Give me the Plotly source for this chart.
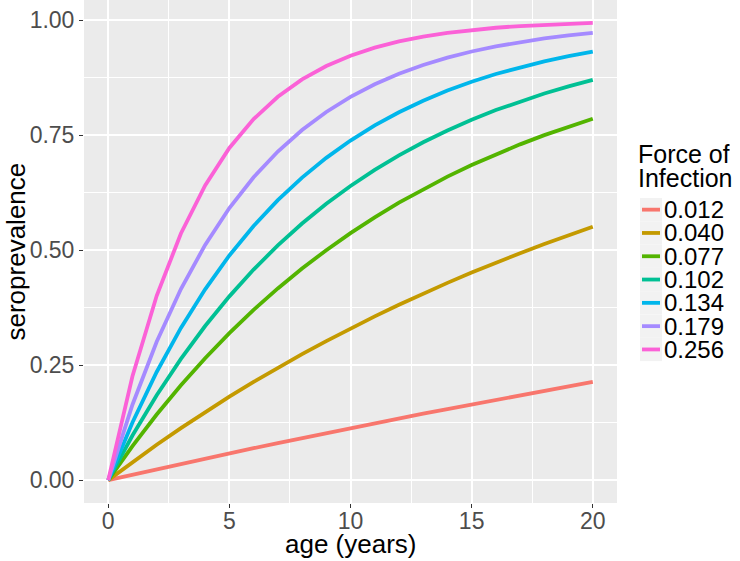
import plotly.graph_objects as go

age = list(range(21))
foi_labels = ["0.012", "0.040", "0.077", "0.102", "0.134", "0.179", "0.256"]
colors = ["#F8766D", "#C49A00", "#53B400", "#00C094", "#00B6EB", "#A58AFF", "#FB61D7"]

sp_0012 = [0, 0.0119, 0.0237, 0.0354, 0.0469, 0.0582, 0.0695, 0.0806, 0.0915, 0.1024, 0.1131,
           0.1237, 0.1341, 0.1444, 0.1546, 0.1647, 0.1747, 0.1845, 0.1943, 0.2039, 0.2134]
sp_0040 = [0, 0.0392, 0.0769, 0.1131, 0.1479, 0.1813, 0.2134, 0.2442, 0.2739, 0.3023, 0.3297,
           0.3560, 0.3812, 0.4055, 0.4288, 0.4512, 0.4727, 0.4934, 0.5132, 0.5323, 0.5507]
sp_0077 = [0, 0.0741, 0.1427, 0.2063, 0.2651, 0.3195, 0.3700, 0.4167, 0.4599, 0.4999, 0.5370,
           0.5713, 0.6031, 0.6325, 0.6597, 0.6849, 0.7083, 0.7299, 0.7499, 0.7685, 0.7856]
sp_0102 = [0, 0.0970, 0.1845, 0.2636, 0.3350, 0.3995, 0.4577, 0.5103, 0.5578, 0.6007, 0.6394,
           0.6744, 0.7059, 0.7345, 0.7602, 0.7835, 0.8045, 0.8234, 0.8405, 0.8560, 0.8700]
sp_0134 = [0, 0.1254, 0.2351, 0.3310, 0.4149, 0.4883, 0.5525, 0.6086, 0.6577, 0.7006, 0.7382,
           0.7710, 0.7997, 0.8248, 0.8468, 0.8660, 0.8828, 0.8975, 0.9104, 0.9216, 0.9314]
sp_0179 = [0, 0.1639, 0.3009, 0.4155, 0.5113, 0.5914, 0.6584, 0.7144, 0.7612, 0.8003, 0.8330,
           0.8604, 0.8833, 0.9024, 0.9184, 0.9318, 0.9430, 0.9523, 0.9601, 0.9667, 0.9721]
sp_0256 = [0, 0.2259, 0.4007, 0.5361, 0.6408, 0.7220, 0.7848, 0.8334, 0.8710, 0.9001, 0.9227,
           0.9402, 0.9537, 0.9641, 0.9722, 0.9785, 0.9834, 0.9871, 0.9900, 0.9923, 0.9940]

series = [sp_0012, sp_0040, sp_0077, sp_0102, sp_0134, sp_0179, sp_0256]

x_ticks = [0, 5, 10, 15, 20]
y_ticks = [0, 0.25, 0.5, 0.75, 1.0]
y_tick_text = ["0.00", "0.25", "0.50", "0.75", "1.00"]

W, H = 740, 561
ML, MR, MT, MB = 84, 123, 0, 58
PW = W - ML - MR
PH = H - MT - MB

def px_x(p):
    return (p - ML) / PW

def px_y(p):
    return (H - MB - p) / PH

fig = go.Figure()
for lab, col, ys in zip(foi_labels, colors, series):
    fig.add_trace(go.Scatter(x=age, y=ys, mode="lines", name=lab,
                             line=dict(color=col, width=3.8), showlegend=False))

font_fam = "Liberation Sans, Arial, sans-serif"

shapes = []
annotations = []
# axis titles
annotations.append(dict(xref="paper", yref="paper", x=px_x(350.5), y=px_y(544),
                        xanchor="center", yanchor="middle", text="age (years)", showarrow=False,
                        height=28, borderpad=0,
                        font=dict(family=font_fam, size=26, color="black")))
annotations.append(dict(xref="paper", yref="paper", x=px_x(15), y=px_y(251.5),
                        xanchor="center", yanchor="middle", text="seroprevalence", showarrow=False,
                        textangle=-90, height=28, borderpad=0,
                        font=dict(family=font_fam, size=26, color="black")))
# manual ggplot-style legend
for j, t in enumerate(["Force of", "Infection"]):
    annotations.append(dict(xref="paper", yref="paper", x=px_x(637), y=px_y(154 + 24 * j),
                            xanchor="left", yanchor="middle", text=t, showarrow=False,
                            height=24, borderpad=0,
                            font=dict(family=font_fam, size=25, color="black")))
key_top = 198
key_h = 23.3
for i, (lab, col) in enumerate(zip(foi_labels, colors)):
    y0 = key_top + i * key_h
    yc = y0 + key_h / 2
    shapes.append(dict(type="rect", xref="paper", yref="paper",
                       x0=px_x(640), x1=px_x(662), y0=px_y(y0), y1=px_y(y0 + key_h),
                       fillcolor="#F2F2F2", line=dict(width=0), layer="below"))
    shapes.append(dict(type="line", xref="paper", yref="paper",
                       x0=px_x(642), x1=px_x(660), y0=px_y(yc), y1=px_y(yc),
                       line=dict(color=col, width=3.8)))
    annotations.append(dict(xref="paper", yref="paper", x=px_x(663), y=px_y(yc),
                            xanchor="left", yanchor="middle", text=lab, showarrow=False,
                            height=23, borderpad=0,
                            font=dict(family=font_fam, size=24, color="black")))

fig.update_layout(
    width=W, height=H,
    margin=dict(l=ML, r=MR, t=MT, b=MB, pad=0),
    paper_bgcolor="white", plot_bgcolor="#EBEBEB",
    font=dict(family=font_fam),
    shapes=shapes, annotations=annotations,
    showlegend=False,
)
fig.update_xaxes(
    range=[-1, 21], tickvals=x_ticks, ticktext=[str(v) for v in x_ticks],
    showgrid=True, gridcolor="white", gridwidth=1.6, zeroline=False,
    minor=dict(dtick=2.5, tick0=0, showgrid=True, gridcolor="white", gridwidth=0.8),
    ticks="outside", ticklen=4, tickcolor="#333333", tickwidth=1,
    tickfont=dict(size=23, color="#4D4D4D", family=font_fam),
    ticklabelstandoff=-7,
    showline=False, automargin=False,
)
fig.update_yaxes(
    range=[-0.0497, 1.0437], tickvals=y_ticks, ticktext=y_tick_text,
    showgrid=True, gridcolor="white", gridwidth=1.6, zeroline=False,
    minor=dict(dtick=0.125, tick0=0, showgrid=True, gridcolor="white", gridwidth=0.8),
    ticks="outside", ticklen=4, tickcolor="#333333", tickwidth=1,
    tickfont=dict(size=23, color="#4D4D4D", family=font_fam),
    showline=False, automargin=False,
)

fig.write_html("out.html", config={"displayModeBar": False},
               post_script="document.body.style.margin='0px';document.body.style.overflow='hidden';")
